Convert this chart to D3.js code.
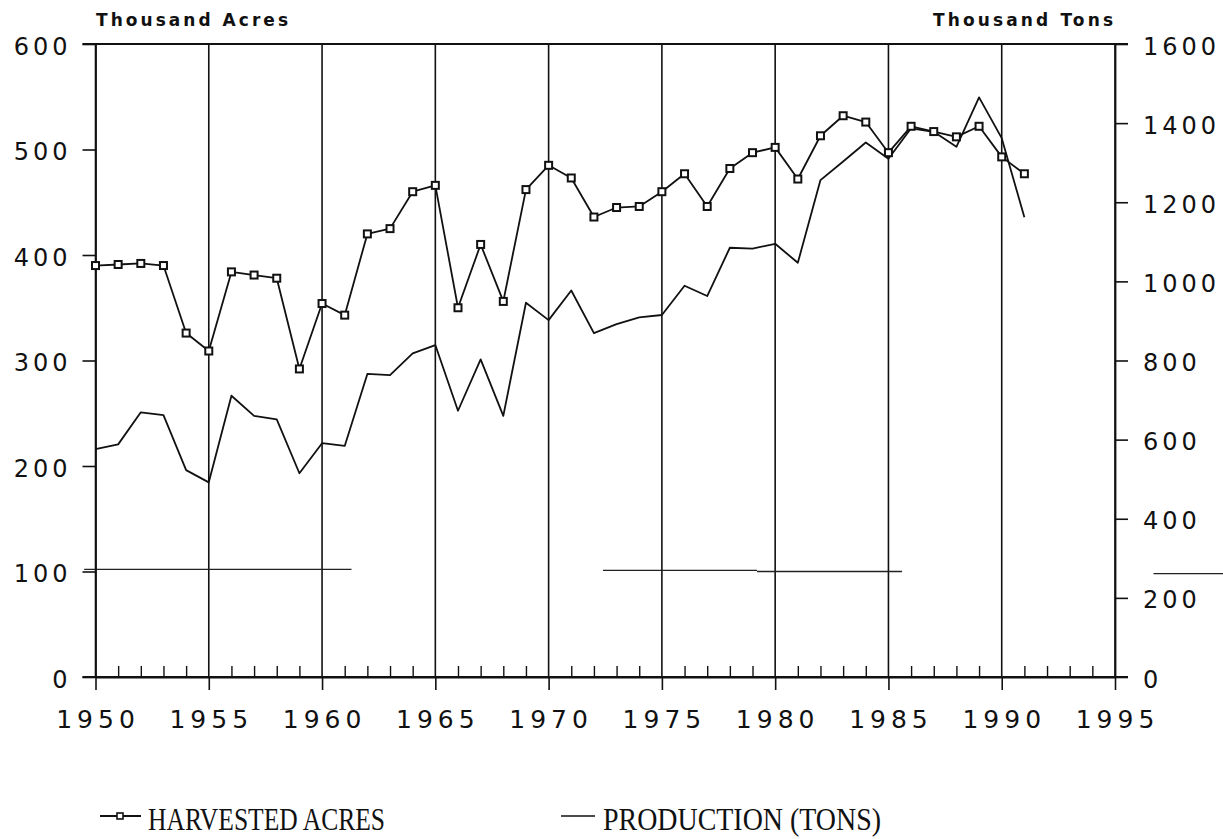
<!DOCTYPE html>
<html>
<head>
<meta charset="utf-8">
<script src="https://cdn.jsdelivr.net/npm/d3@7"></script>
<style>
  body { margin: 0; background: #fff; }
  svg { display: block; }
</style>
</head>
<body>
<div id="main"></div>
<script>
// data
var years = [1950, 1951, 1952, 1953, 1954, 1955, 1956, 1957, 1958, 1959,
  1960, 1961, 1962, 1963, 1964, 1965, 1966, 1967, 1968, 1969,
  1970, 1971, 1972, 1973, 1974, 1975, 1976, 1977, 1978, 1979,
  1980, 1981, 1982, 1983, 1984, 1985, 1986, 1987, 1988, 1989,
  1990, 1991];

// thousand acres (left axis)
var acres = [390, 391, 392, 390, 326, 309, 384, 381, 378, 292,
  354, 343, 420, 425, 460, 466, 350, 410, 356, 462,
  485, 473, 436, 445, 446, 460, 477, 446, 482, 497,
  502, 472, 513, 532, 526, 497, 522, 517, 512, 522,
  493, 477];

// thousand tons (right axis)
var tons = [576, 588, 669, 662, 523, 492, 711, 660, 651, 515,
  591, 584, 766, 763, 818, 839, 673, 803, 660, 946,
  902, 977, 869, 892, 909, 915, 989, 963, 1085, 1083,
  1095, 1047, 1256, 1303, 1351, 1310, 1387, 1378, 1340, 1465,
  1362, 1162];

var yearTicks = [1950, 1955, 1960, 1965, 1970, 1975, 1980, 1985, 1990, 1995];
var acreTicks = [0, 100, 200, 300, 400, 500, 600];
var tonTicks = [0, 200, 400, 600, 800, 1000, 1200, 1400, 1600];

// broken horizontal line left over from the scan (year ranges, acres)
var scanLine = [[1949.5, 1961.3, 102], [1972.4, 1979.2, 101], [1979.2, 1985.6, 100], [1996.7, 2000, 98]];

var legendNames = ['HARVESTED ACRES', 'PRODUCTION (TONS)'];

function draw() {

  var width = 1223, height = 839;

  var svg = d3.select('#main').append('svg')
    .attr('width', width).attr('height', height);

  var x = d3.scaleLinear().domain([1950, 1995]).range([95.5, 1115]);
  var yL = d3.scaleLinear().domain([0, 600]).range([677, 44]);
  var yR = d3.scaleLinear().domain([0, 1600]).range([677, 44]);

  var numFont = "'DejaVu Sans', sans-serif";

  // vertical grid every 5 years
  svg.append('g')
    .selectAll('line')
    .data(yearTicks)
    .enter()
    .append('line')
    .attr('x1', function (d) { return x(d); })
    .attr('x2', function (d) { return x(d); })
    .attr('y1', yL(600))
    .attr('y2', yL(0))
    .attr('stroke', '#111')
    .attr('stroke-width', 1.6);

  // top border
  svg.append('line')
    .attr('x1', x(1950)).attr('x2', x(1995))
    .attr('y1', yL(600)).attr('y2', yL(600))
    .attr('stroke', '#111').attr('stroke-width', 1.6);

  // scan line remnants
  svg.append('g')
    .selectAll('line')
    .data(scanLine)
    .enter()
    .append('line')
    .attr('x1', function (d) { return x(d[0]); })
    .attr('x2', function (d) { return x(d[1]); })
    .attr('y1', function (d) { return yL(d[2]); })
    .attr('y2', function (d) { return yL(d[2]); })
    .attr('stroke', '#222')
    .attr('stroke-width', 1.3);

  // left axis
  var left = svg.append('g')
    .attr('transform', 'translate(' + x(1950) + ',0)')
    .call(d3.axisLeft(yL).tickValues(acreTicks).tickSize(13).tickSizeOuter(0).tickPadding(11));
  left.select('.domain').attr('stroke', '#111').attr('stroke-width', 1.8);
  left.selectAll('.tick line').attr('stroke', '#111').attr('stroke-width', 1.6);
  left.selectAll('text')
    .attr('font-family', numFont)
    .attr('font-size', 24)
    .attr('letter-spacing', 4)
    .attr('fill', '#111')
    .attr('dy', '0.42em');

  // right axis
  var right = svg.append('g')
    .attr('transform', 'translate(' + x(1995) + ',0)')
    .call(d3.axisRight(yR).tickValues(tonTicks).tickFormat(d3.format('d')).tickSize(13).tickSizeOuter(0).tickPadding(15));
  right.select('.domain').attr('stroke', '#111').attr('stroke-width', 1.8);
  right.selectAll('.tick line').attr('stroke', '#111').attr('stroke-width', 1.6);
  right.selectAll('text')
    .attr('font-family', numFont)
    .attr('font-size', 24)
    .attr('letter-spacing', 4)
    .attr('fill', '#111')
    .attr('dy', '0.42em');

  // bottom axis, majors
  var bottom = svg.append('g')
    .attr('transform', 'translate(0,' + yL(0) + ')')
    .call(d3.axisBottom(x).tickValues(yearTicks).tickFormat(d3.format('d')).tickSize(13).tickSizeOuter(0).tickPadding(20));
  bottom.select('.domain').attr('stroke', '#111').attr('stroke-width', 1.8);
  bottom.selectAll('.tick line').attr('stroke', '#111').attr('stroke-width', 1.6);
  bottom.selectAll('text')
    .attr('font-family', numFont)
    .attr('font-size', 25)
    .attr('letter-spacing', 5)
    .attr('dx', 2)
    .attr('fill', '#111');

  // bottom axis, minor year ticks pointing up
  var minor = svg.append('g')
    .attr('transform', 'translate(0,' + yL(0) + ')')
    .call(d3.axisBottom(x)
      .tickValues(d3.range(1950, 1996).filter(function (d) { return d % 5 !== 0; }))
      .tickSize(-11).tickSizeOuter(0).tickFormat(''));
  minor.select('.domain').remove();
  minor.selectAll('.tick line').attr('stroke', '#111').attr('stroke-width', 1.4);

  // axis caps reaching out to the labels
  [yL(600), yL(0)].forEach(function (yy) {
    svg.append('line')
      .attr('x1', x(1950) - 13).attr('x2', x(1995) + 13)
      .attr('y1', yy).attr('y2', yy)
      .attr('stroke', '#111').attr('stroke-width', 1.8);
  });

  // unit titles
  var titleFont = "'DejaVu Sans', sans-serif";
  svg.append('text')
    .attr('x', 96).attr('y', 26)
    .attr('font-family', titleFont).attr('font-weight', 'bold').attr('font-size', 17)
    .attr('textLength', 192).attr('lengthAdjust', 'spacing')
    .attr('fill', '#111')
    .text('Thousand Acres');
  svg.append('text')
    .attr('x', 933).attr('y', 26)
    .attr('font-family', titleFont).attr('font-weight', 'bold').attr('font-size', 17)
    .attr('textLength', 180).attr('lengthAdjust', 'spacing')
    .attr('fill', '#111')
    .text('Thousand Tons');

  var lineAcres = d3.line()
    .x(function (d, i) { return x(years[i]); })
    .y(function (d) { return yL(d); });

  var lineTons = d3.line()
    .x(function (d, i) { return x(years[i]); })
    .y(function (d) { return yR(d); });

  svg.append('path')
    .datum(tons)
    .attr('fill', 'none')
    .attr('stroke', '#111')
    .attr('stroke-width', 1.8)
    .attr('stroke-linejoin', 'round')
    .attr('d', lineTons);

  svg.append('path')
    .datum(acres)
    .attr('fill', 'none')
    .attr('stroke', '#111')
    .attr('stroke-width', 1.8)
    .attr('stroke-linejoin', 'round')
    .attr('d', lineAcres);

  svg.append('g')
    .selectAll('rect')
    .data(acres)
    .enter()
    .append('rect')
    .attr('x', function (d, i) { return x(years[i]) - 3.5; })
    .attr('y', function (d) { return yL(d) - 3.5; })
    .attr('width', 7)
    .attr('height', 7)
    .attr('fill', '#fff')
    .attr('stroke', '#111')
    .attr('stroke-width', 2);

  // legend
  var legend = svg.append('g').attr('transform', 'translate(0,816)');

  legend.append('line')
    .attr('x1', 100).attr('x2', 141).attr('y1', 0).attr('y2', 0)
    .attr('stroke', '#111').attr('stroke-width', 1.8);
  legend.append('rect')
    .attr('x', 117).attr('y', -3).attr('width', 6).attr('height', 6)
    .attr('fill', '#fff').attr('stroke', '#111').attr('stroke-width', 1.6);
  legend.append('line')
    .attr('x1', 561).attr('x2', 595).attr('y1', 0).attr('y2', 0)
    .attr('stroke', '#111').attr('stroke-width', 1.6);

  legend.selectAll('text')
    .data(legendNames)
    .enter()
    .append('text')
    .attr('x', function (d, i) { return i === 0 ? 148 : 603; })
    .attr('y', 14)
    .attr('font-family', "'Liberation Serif', serif")
    .attr('font-size', 32)
    .attr('textLength', function (d, i) { return i === 0 ? 237 : 278; })
    .attr('lengthAdjust', 'spacingAndGlyphs')
    .attr('fill', '#111')
    .text(function (d) { return d; });
}

draw();
</script>
</body>
</html>
